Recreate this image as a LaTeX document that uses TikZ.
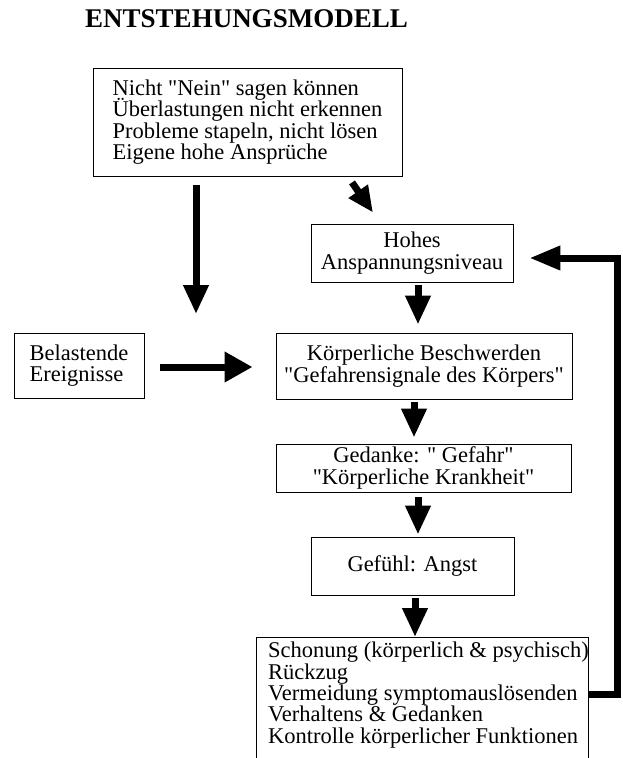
\documentclass[tikz,border=0pt]{standalone}
\usepackage{fontspec}
\setmainfont{Liberation Serif}[Ligatures=TeXOff]
\usetikzlibrary{arrows.meta}
\newcommand\mytxtfont{\fontsize{22.5}{21.3}\selectfont\lineskiplimit=-100pt\relax}
\newcommand\mytitlefont{\fontsize{27}{30}\selectfont\bfseries}
\begin{document}
\begin{tikzpicture}[x=1pt,y=-1pt,
  box/.style={draw=black, line width=0.9pt, inner sep=0pt},
  txt/.style={font=\mytxtfont},
  bigarrow/.style={line width=7pt, line join=miter, -{Triangle[width=24pt,length=29pt]}},
]
\useasboundingbox (0,0) rectangle (622,758);
\clip (0,0) rectangle (622,758);
\fill[white] (0,0) rectangle (622,758);

\node[anchor=base, font=\mytitlefont] (title) at (246.5,27) {ENTSTEHUNGSMODELL};

\node[box, txt, align=left, minimum width=309pt, minimum height=108pt] (top) at (247.5,122)
  {Nicht "Nein" sagen können\\Überlastungen nicht erkennen\\Probleme stapeln, nicht lösen\\Eigene hohe Ansprüche};
\node[box, txt, align=center, minimum width=202pt, minimum height=58pt] (hohes) at (412,253)
  {Hohes\\Anspannungsniveau};
\node[box, txt, align=left, minimum width=130pt, minimum height=65pt] (bel) at (79,365.5)
  {Belastende\\Ereignisse};
\node[box, txt, align=center, minimum width=296pt, minimum height=66pt] (koerper) at (424,366)
  {Körperliche Beschwerden\\"Gefahrensignale des Körpers"};
\node[box, txt, align=center, minimum width=295pt, minimum height=48pt] (ged) at (423.5,468)
  {Gedanke: " Gefahr"\\"Körperliche Krankheit"};
\node[box, txt, align=center, minimum width=203pt, minimum height=58pt] (gef) at (412.5,566)
  {Gefühl: Angst};
\node[box, minimum width=332pt, minimum height=140pt, anchor=north] (bot) at (422,637) {};
\node[txt, align=left, anchor=north west, inner sep=0pt] (bottxt) at (268,642)
  {Schonung (körperlich \& psychisch)\\Rückzug\\Vermeidung symptomauslösenden\\Verhaltens \& Gedanken\\Kontrolle körperlicher Funktionen};

\coordinate (a1) at (196,314);
\draw[bigarrow] ([shift={(-51.5,9)}]top.south) -- (a1);
\draw[line width=7pt, -{Triangle[width=22pt,length=26pt]}] ([shift={(104.5,6)}]top.south) -- ([shift={(-39,-11)}]hohes.north);
\draw[bigarrow] ([shift={(6,3)}]hohes.south) -- ([shift={(-6,-8)}]koerper.north);
\draw[line width=7pt, -{Triangle[width=29pt,length=28pt]}] ([shift={(16,1.5)}]bel.east) -- ([shift={(-23,1)}]koerper.west);
\draw[bigarrow] ([shift={(-10,3)}]koerper.south) -- ([shift={(-9.5,-6)}]ged.north);
\draw[bigarrow] ([shift={(-5.5,5)}]ged.south) -- ([shift={(5.5,-2)}]gef.north);
\draw[bigarrow] ([shift={(2.5,3)}]gef.south) -- ([shift={(-7,0)}]bot.north);
\draw[line width=7pt, line join=miter, -{Triangle[width=23pt,length=31pt]}] ([shift={(0,-13)}]bot.east) -- ++(29,0) |- ([shift={(16,5)}]hohes.east);
\end{tikzpicture}
\end{document}
